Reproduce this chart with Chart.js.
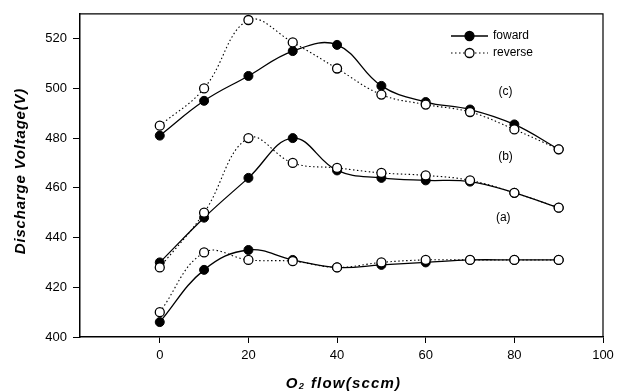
<!DOCTYPE html>
<html><head><meta charset="utf-8">
<script src="https://cdn.jsdelivr.net/npm/chart.js@4.4.1/dist/chart.umd.min.js"></script>
<style>html,body{margin:0;padding:0;background:#fff}canvas{display:block}</style>
</head><body>
<canvas id="c" width="628" height="392"></canvas>
<script>
const flow = [0, 10, 20, 30, 40, 50, 60, 70, 80, 90];
const cForward = [481, 495, 505, 515, 517.5, 501, 494.5, 491.5, 485.5, 475.5];
const cReverse = [485, 500, 527.5, 518.5, 508, 497.5, 493.5, 490.5, 483.5, 475.5];
const bForward = [430, 448, 464, 480, 467, 464, 463, 462.5, 458, 452];
const bReverse = [428, 450, 480, 470, 468, 466, 465, 463, 458, 452];
const aForward = [406, 427, 435, 431, 428, 429, 430, 431, 431, 431];
const aReverse = [410, 434, 431, 430.5, 428, 430, 431, 431, 431, 431];
const xTicks = [0, 20, 40, 60, 80, 100];
const yTicks = [400, 420, 440, 460, 480, 500, 520];
const curveLabels = ['(c)', '(b)', '(a)'];
const curveLabelPos = [[78, 498.5], [78, 472.5], [77.5, 448]];
const legendNames = ['foward', 'reverse'];
const xTitle = 'O\u2082 flow(sccm)';
const yTitle = 'Discharge Voltage(V)';

const pts = arr => arr.map((v, i) => ({x: flow[i], y: v}));
const fwd = arr => ({data: pts(arr), borderColor: '#000', borderWidth: 1.3, backgroundColor: '#000',
  pointRadius: 4.5, pointBackgroundColor: '#000', pointBorderColor: '#000', pointBorderWidth: 1,
  tension: 0.4, fill: false, order: 2});
const rev = arr => ({data: pts(arr), borderColor: '#000', borderWidth: 1.1, borderDash: [1.5, 2.5],
  backgroundColor: '#fff', pointRadius: 4.5, pointBackgroundColor: '#fff', pointBorderColor: '#000',
  pointBorderWidth: 1.3, tension: 0.4, fill: false, order: 1});

const FONT = '"Liberation Sans", Arial, sans-serif';

const extras = {
  id: 'extras',
  afterDraw(chart) {
    const {ctx, chartArea: a, scales: {x, y}} = chart;
    ctx.save();
    ctx.strokeStyle = '#000';
    ctx.lineWidth = 1.2;
    ctx.beginPath();
    ctx.moveTo(a.left, a.top); ctx.lineTo(a.right, a.top); ctx.lineTo(a.right, a.bottom);
    ctx.stroke();
    ctx.fillStyle = '#000';
    ctx.font = '12px ' + FONT;
    ctx.textAlign = 'center'; ctx.textBaseline = 'middle';
    curveLabels.forEach((t, i) => {
      ctx.fillText(t, x.getPixelForValue(curveLabelPos[i][0]), y.getPixelForValue(curveLabelPos[i][1]));
    });
    // legend
    const lx = 451, lw = 37, rows = [36, 53];
    ctx.textAlign = 'left';
    ctx.font = '12px ' + FONT;
    rows.forEach((ry, i) => {
      ctx.beginPath();
      ctx.lineWidth = i === 0 ? 1.3 : 1.1;
      ctx.setLineDash(i === 0 ? [] : [1.5, 2.5]);
      ctx.moveTo(lx, ry); ctx.lineTo(lx + lw, ry); ctx.stroke();
      ctx.setLineDash([]);
      ctx.beginPath();
      ctx.arc(lx + lw / 2, ry, 4.5, 0, Math.PI * 2);
      ctx.fillStyle = i === 0 ? '#000' : '#fff';
      ctx.fill();
      ctx.lineWidth = 1.3;
      ctx.stroke();
      ctx.fillStyle = '#000';
      ctx.fillText(legendNames[i], lx + lw + 5, ry);
    });
    // axis titles
    ctx.font = 'italic bold 15px ' + FONT;
    ctx.textAlign = 'center';
    ctx.letterSpacing = '1.2px';
    ctx.fillText(xTitle, (a.left + a.right) / 2 + 2, 384);
    ctx.letterSpacing = '0.8px';
    ctx.translate(21, 171);
    ctx.rotate(-Math.PI / 2);
    ctx.fillText(yTitle, 0, 0);
    ctx.restore();
  }
};

new Chart(document.getElementById('c'), {
  type: 'line',
  data: {datasets: [fwd(cForward), rev(cReverse), fwd(bForward), rev(bReverse), fwd(aForward), rev(aReverse)]},
  options: {
    responsive: false, animation: false,
    layout: {padding: {top: 11, right: 25, left: 0, bottom: 0}},
    plugins: {legend: {display: false}, tooltip: {enabled: false}},
    scales: {
      x: {
        type: 'linear', min: -18, max: 100,
        afterBuildTicks: s => { s.ticks = xTicks.map(v => ({value: v})); },
        afterFit: s => { s.height = 55; },
        grid: {display: true, drawOnChartArea: false, drawTicks: true, tickLength: 6, color: '#000', lineWidth: 1},
        border: {display: true, color: '#000', width: 1.5},
        ticks: {color: '#000', font: {family: FONT, size: 13}, padding: 5, maxRotation: 0},
        title: {display: false}
      },
      y: {
        type: 'linear', min: 400, max: 530,
        afterBuildTicks: s => { s.ticks = yTicks.map(v => ({value: v})); },
        afterFit: s => { s.width = 80; },
        grid: {display: true, drawOnChartArea: false, drawTicks: true, tickLength: 7, color: '#000', lineWidth: 1},
        border: {display: true, color: '#000', width: 1.5},
        ticks: {color: '#000', font: {family: FONT, size: 13}, padding: 6},
        title: {display: false}
      }
    }
  },
  plugins: [extras]
});
</script>
</body></html>
